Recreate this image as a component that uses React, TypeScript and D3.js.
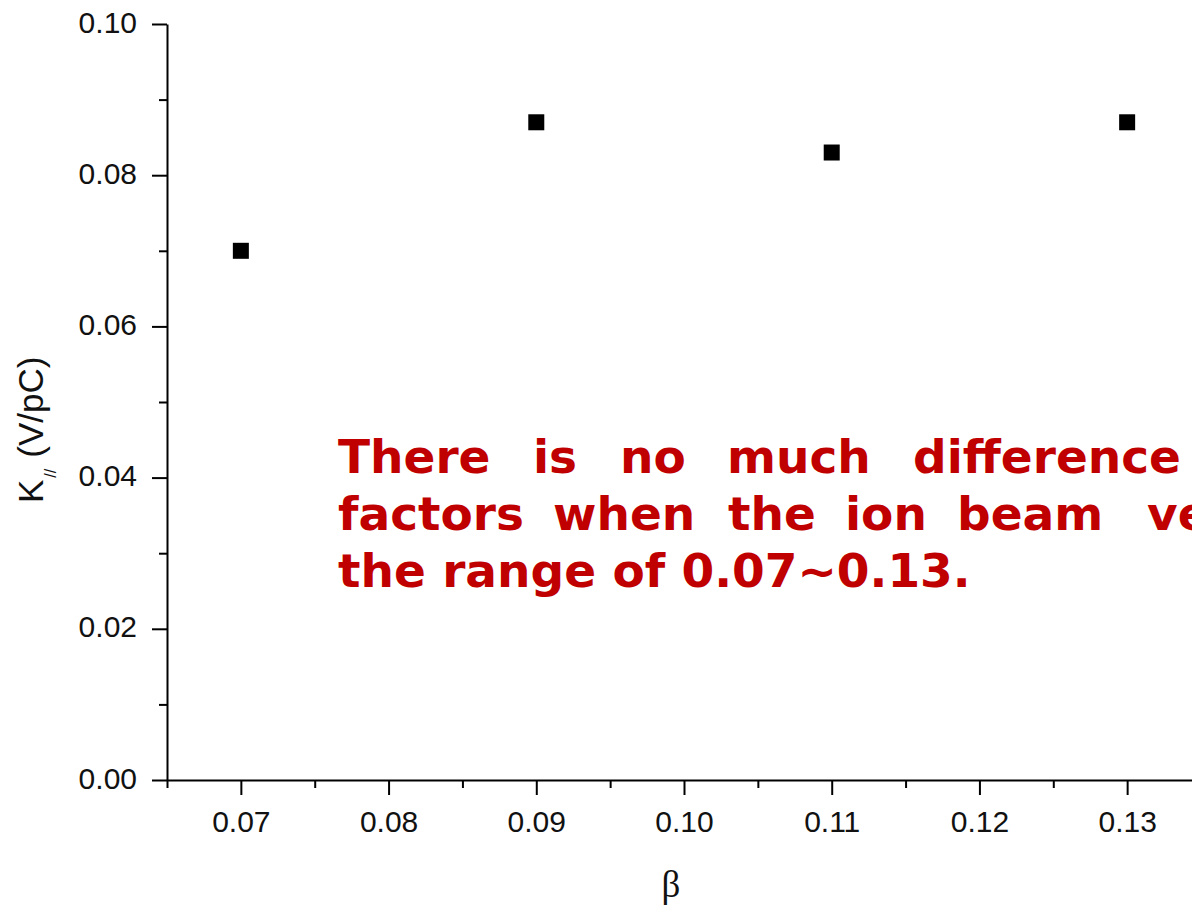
import React, { useEffect, useRef } from "react";
import * as d3 from "d3";

// measured points
const betaValues = [0.07, 0.09, 0.11, 0.13];
const kValues = [0.07, 0.087, 0.083, 0.087];

const xTicks = [0.07, 0.08, 0.09, 0.1, 0.11, 0.12, 0.13];
const xMinorTicks = [0.065, 0.075, 0.085, 0.095, 0.105, 0.115, 0.125, 0.135];
const yTicks = [0, 0.02, 0.04, 0.06, 0.08, 0.1];
const yMinorTicks = [0.01, 0.03, 0.05, 0.07, 0.09];

// annotation, word by word (justified lines in the original slide)
const noteLine1 = [
  ["There", 338],
  ["is", 533],
  ["no", 620],
  ["much", 727],
  ["difference", 913],
];
const noteLine2 = [
  ["factors", 338],
  ["when", 553],
  ["the", 728],
  ["ion", 845],
  ["beam", 957],
  ["ve", 1147],
];
const noteLine3 = [["the range of 0.07~0.13.", 338]];

const App = () => {
  const svgRef = useRef(null);

  useEffect(() => {
    const width = 1192;
    const height = 905;
    const svg = d3.select(svgRef.current);
    svg.selectAll("*").remove();
    svg.attr("width", width).attr("height", height);

    svg
      .append("rect")
      .attr("width", width)
      .attr("height", height)
      .attr("fill", "#fff");

    const x = d3.scaleLinear().domain([0.065, 0.135]).range([167, 1201]);
    const y = d3.scaleLinear().domain([0, 0.1]).range([780, 24]);
    const fmt = d3.format(".2f");

    // y axis
    const yAxisG = svg.append("g").attr("transform", `translate(${x(0.065)},0)`);
    yAxisG.call(
      d3
        .axisLeft(y)
        .tickValues(yTicks)
        .tickSize(15)
        .tickSizeOuter(0)
        .tickPadding(15)
        .tickFormat(fmt)
    );
    const yMinorG = svg.append("g").attr("transform", `translate(${x(0.065)},0)`);
    yMinorG.call(
      d3.axisLeft(y).tickValues(yMinorTicks).tickSize(8).tickFormat(() => "")
    );
    yMinorG.select(".domain").remove();

    // x axis
    const xAxisG = svg.append("g").attr("transform", `translate(0,${y(0)})`);
    xAxisG.call(
      d3
        .axisBottom(x)
        .tickValues(xTicks)
        .tickSize(15)
        .tickSizeOuter(0)
        .tickPadding(16)
        .tickFormat(fmt)
    );
    const xMinorG = svg.append("g").attr("transform", `translate(0,${y(0)})`);
    xMinorG.call(
      d3.axisBottom(x).tickValues(xMinorTicks).tickSize(8).tickFormat(() => "")
    );
    xMinorG.select(".domain").remove();

    svg.selectAll(".domain").attr("stroke", "#000").attr("stroke-width", 2);
    svg.selectAll(".tick line").attr("stroke", "#000").attr("stroke-width", 2);
    svg
      .selectAll(".tick text")
      .attr("fill", "#111")
      .attr("font-family", "'Liberation Sans', Arial, sans-serif")
      .attr("font-size", 30);
    yAxisG.selectAll(".tick text").attr("dy", "0.27em");

    // points
    svg
      .append("g")
      .selectAll("rect")
      .data(betaValues)
      .enter()
      .append("rect")
      .attr("x", (d) => x(d) - 8)
      .attr("y", (d, i) => y(kValues[i]) - 8)
      .attr("width", 16)
      .attr("height", 16)
      .attr("fill", "#000");

    // axis titles
    svg
      .append("text")
      .attr("x", 671)
      .attr("y", 897)
      .attr("text-anchor", "middle")
      .attr("font-family", "'Liberation Serif', 'Times New Roman', serif")
      .attr("font-size", 37)
      .attr("fill", "#111")
      .text("β");

    const yTitle = svg
      .append("text")
      .attr("transform", "translate(43,503) rotate(-90)")
      .attr("font-family", "'Liberation Sans', Arial, sans-serif")
      .attr("font-size", 35)
      .attr("fill", "#111");
    yTitle.append("tspan").text("K");
    yTitle
      .append("tspan")
      .attr("font-size", 16)
      .attr("dy", 13)
      .attr("dx", 2)
      .text("//");
    yTitle.append("tspan").attr("dy", -13).attr("dx", 11).text("(V/pC)");

    // annotation
    const note = svg
      .append("g")
      .attr("fill", "#C00000")
      .attr("font-family", "'DejaVu Sans', Verdana, sans-serif")
      .attr("font-weight", "bold")
      .attr("font-size", 47);
    [noteLine1, noteLine2, noteLine3].forEach((line, li) => {
      line.forEach(([word, wx]) => {
        note
          .append("text")
          .attr("x", wx)
          .attr("y", 473 + li * 57)
          .text(word);
      });
    });
  }, []);

  return (
    <div style={{ position: "absolute", left: 0, top: 0 }}>
      <svg ref={svgRef} style={{ display: "block" }}></svg>
    </div>
  );
};

export default App;
